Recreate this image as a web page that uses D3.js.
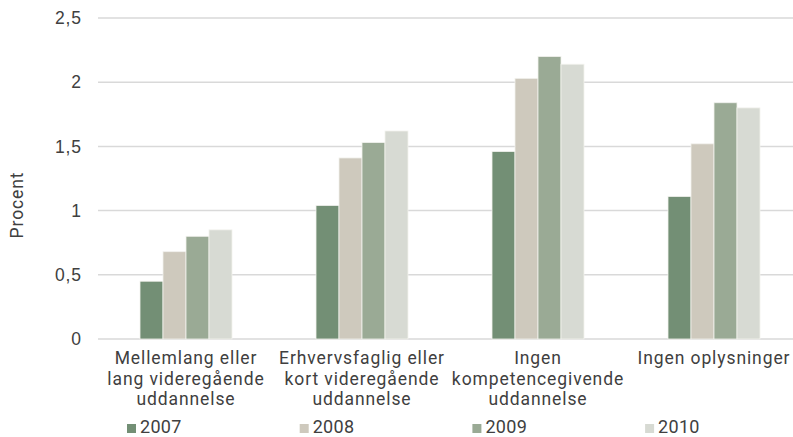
<!DOCTYPE html>
<html>
<head>
<meta charset="UTF-8">
<title>Procent</title>
<style>
html, body {
    margin: 0;
    padding: 0;
    background-color: #ffffff;
}
svg {
    display: block;
    font-family: "Roboto", sans-serif;
}
.grid line {
    stroke: #d9d9d9;
    stroke-width: 1.5;
}
.tick text, .lbl {
    fill: #404040;
    font-size: 17.5px;
    letter-spacing: 0.9px;
}
.leg {
    fill: #404040;
    font-size: 18px;
    letter-spacing: 0.3px;
}
</style>
</head>
<body>
<div class="chart"></div>
<script src="https://cdn.jsdelivr.net/npm/d3@7/dist/d3.min.js"></script>
<script>
const categories = [
    ['Mellemlang eller', 'lang videregående', 'uddannelse'],
    ['Erhvervsfaglig eller', 'kort videregående', 'uddannelse'],
    ['Ingen', 'kompetencegivende', 'uddannelse'],
    ['Ingen oplysninger']
];
const years = ['2007', '2008', '2009', '2010'];
const v2007 = [0.45, 1.04, 1.46, 1.11];
const v2008 = [0.68, 1.41, 2.03, 1.52];
const v2009 = [0.80, 1.53, 2.20, 1.84];
const v2010 = [0.85, 1.62, 2.14, 1.80];
const yTicks = [0, 0.5, 1, 1.5, 2, 2.5];
const tickLabels = ['0', '0,5', '1', '1,5', '2', '2,5'];

const series = [v2007, v2008, v2009, v2010];
const colors = ['#738f75', '#cec9bd', '#9aaa95', '#d7dad3'];

const width = 793, height = 437;

let svg = d3.select('.chart').append('svg')
    .attr('width', width)
    .attr('height', height);

let x0 = d3.scaleBand()
    .domain(d3.range(categories.length))
    .range([98, 802]);

let x1 = d3.scaleBand()
    .domain(d3.range(years.length))
    .range([0, 92]);

let y = d3.scaleLinear()
    .domain([0, 2.5])
    .range([339, 18]);

// gridlines
svg.append('g')
    .attr('class', 'grid')
    .selectAll('line')
    .data(yTicks)
    .join('line')
    .attr('x1', 98)
    .attr('x2', width)
    .attr('y1', d => y(d))
    .attr('y2', d => y(d));

// y axis labels
let yAxis = d3.axisLeft(y)
    .tickValues(yTicks)
    .tickFormat((d, i) => tickLabels[i])
    .tickSize(0)
    .tickPadding(0);

let gy = svg.append('g')
    .attr('transform', 'translate(82,0)')
    .call(yAxis);
gy.select('.domain').remove();
gy.selectAll('text').attr('font-family', null).attr('font-size', null);

svg.append('text')
    .attr('class', 'lbl')
    .attr('transform', 'translate(23,205) rotate(-90)')
    .attr('text-anchor', 'middle')
    .text('Procent');

// bars
let groups = svg.append('g')
    .selectAll('g')
    .data(categories.map((c, i) => i))
    .join('g')
    .attr('transform', i => `translate(${x0(i) + (x0.bandwidth() - 92) / 2},0)`);

groups.selectAll('rect')
    .data(i => series.map((s, k) => ({k: k, v: s[i]})))
    .join('rect')
    .attr('x', d => x1(d.k))
    .attr('width', x1.bandwidth())
    .attr('y', d => y(d.v))
    .attr('height', d => y(0) - y(d.v))
    .attr('fill', d => colors[d.k])
    .attr('stroke', '#f2f2ee')
    .attr('stroke-width', 0.8);

// category labels
let catLabels = svg.append('g')
    .selectAll('text')
    .data(categories)
    .join('text')
    .attr('class', 'lbl')
    .attr('text-anchor', 'middle')
    .attr('x', (d, i) => x0(i) + x0.bandwidth() / 2)
    .attr('y', 364);

catLabels.selectAll('tspan')
    .data(d => d)
    .join('tspan')
    .attr('x', function () { return d3.select(this.parentNode).attr('x'); })
    .attr('dy', (d, i) => i === 0 ? 0 : 20.5)
    .text(d => d);

// legend
let legend = svg.append('g')
    .selectAll('g')
    .data(years)
    .join('g')
    .attr('transform', (d, i) => `translate(${127 + i * 172.7},428)`);

legend.append('rect')
    .attr('x', 0)
    .attr('y', -4)
    .attr('width', 9)
    .attr('height', 9)
    .attr('fill', (d, i) => colors[i]);

legend.append('text')
    .attr('class', 'leg')
    .attr('x', 13)
    .attr('y', 4.5)
    .text(d => d);
</script>
</body>
</html>
